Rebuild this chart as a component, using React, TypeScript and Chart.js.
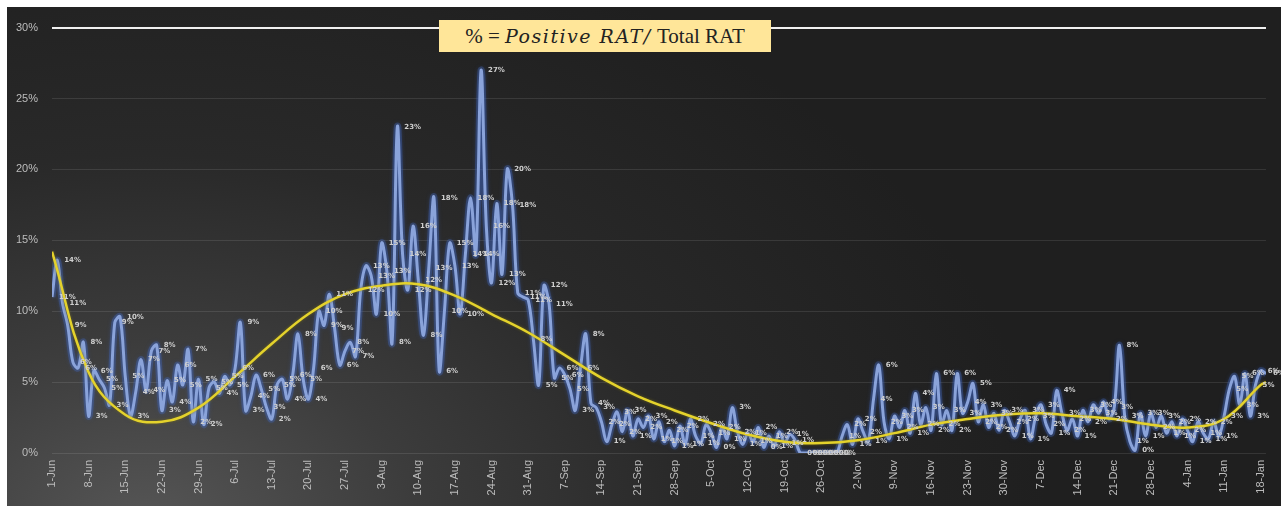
import React, { useEffect, useRef } from "react";
import { Chart, registerables } from "chart.js";

Chart.register(...registerables);

// Weekly tick labels (every 7th day starting 1-Jun)
const weekLabels = [
  "1-Jun", "8-Jun", "15-Jun", "22-Jun", "29-Jun", "6-Jul", "13-Jul", "20-Jul", "27-Jul",
  "3-Aug", "10-Aug", "17-Aug", "24-Aug", "31-Aug", "7-Sep", "14-Sep", "21-Sep", "28-Sep",
  "5-Oct", "12-Oct", "19-Oct", "26-Oct", "2-Nov", "9-Nov", "16-Nov", "23-Nov", "30-Nov",
  "7-Dec", "14-Dec", "21-Dec", "28-Dec", "4-Jan", "11-Jan", "18-Jan",
];

// Daily % positive RAT, 1-Jun .. 19-Jan
const positivity = [
  11.0, 13.6, 10.6, 9.0, 6.4, 6.0, 7.8, 2.6, 5.8, 5.2,
  4.6, 3.4, 9.2, 9.6, 5.4, 2.6, 4.3, 6.6, 4.4, 7.2,
  7.6, 3.0, 5.1, 3.6, 6.2, 4.8, 7.3, 2.2, 5.2, 2.0,
  4.6, 5.0, 4.2, 5.4, 4.8, 6.0, 9.2, 3.0, 4.0, 5.5,
  4.5, 3.2, 2.4, 4.8, 5.2, 3.8, 5.5, 8.4, 5.2, 3.8,
  6.0, 10.0, 9.0, 11.2, 8.8, 6.2, 7.2, 7.8, 6.8, 11.5,
  13.2, 12.5, 9.8, 14.8, 12.8, 7.8, 23.0, 14.0, 11.5, 16.0,
  12.2, 8.3, 13.0, 18.0, 5.8, 10.0, 14.8, 13.2, 9.8, 14.0,
  18.0, 14.0, 27.0, 16.0, 12.0, 17.6, 12.6, 20.0, 17.5, 11.3,
  11.0, 10.8, 8.0, 4.8, 11.8, 10.5, 5.3, 6.0, 5.5, 4.5,
  3.0, 6.0, 8.4, 3.5, 3.2, 2.2, 0.8, 2.0, 2.9, 1.5,
  3.0, 1.2, 2.4, 1.8, 2.6, 1.0, 2.2, 0.8, 1.6, 0.5,
  1.9, 0.6, 2.4, 1.2, 0.7, 2.0, 1.4, 0.4, 1.8, 1.0,
  3.2, 1.5, 0.6, 1.4, 0.8, 1.8, 0.4, 1.2, 0.5, 1.5,
  0.7, 1.3, 0.9, 0, 0, 0, 0, 0, 0, 0,
  0, 1.2, 2.0, 0.6, 2.4, 1.5, 0.8, 3.8, 6.2, 2.2,
  1.0, 2.6, 1.8, 3.0, 1.4, 4.2, 2.0, 3.2, 1.6, 5.6,
  2.0, 3.0, 1.6, 5.6, 2.8, 3.6, 4.9, 2.2, 3.4, 1.8,
  2.8, 1.6, 3.0, 2.2, 1.2, 2.4, 3.0, 1.0, 2.6, 3.4,
  2.0, 1.4, 4.4, 2.8, 1.6, 2.4, 1.2, 3.0, 2.2, 3.4,
  2.8, 3.6, 2.4, 3.2, 7.6, 2.6, 0.8, 0.2, 2.8, 1.2,
  2.8, 1.8, 2.6, 1.4, 2.2, 1.2, 2.4, 1.6, 0.8, 2.2,
  1.4, 1.0, 2.2, 1.2, 2.6, 4.5, 5.4, 3.4, 5.6, 2.6,
  4.8, 5.8, 5.6,
];

// Polynomial trendline, read at weekly days
const trendDays = [0, 7, 14, 21, 28, 35, 42, 49, 56, 63, 70, 77, 84, 91, 98, 105, 112, 119, 126, 133, 140, 147, 154, 161, 168, 175, 182, 189, 196, 203, 210, 217, 224, 231, 232];
const trendValues = [14.2, 5.7, 2.7, 2.2, 3.2, 5.4, 7.7, 9.8, 11.2, 11.8, 11.9, 11.1, 9.8, 8.5, 6.9, 5.3, 4.0, 3.0, 2.1, 1.3, 0.8, 0.7, 0.9, 1.4, 2.0, 2.4, 2.7, 2.8, 2.6, 2.4, 2.0, 1.8, 2.4, 4.8, 5.0];

const yTicks = [0, 5, 10, 15, 20, 25, 30];

export default function App() {
  const canvasRef = useRef<HTMLCanvasElement>(null);

  useEffect(() => {
    if (!canvasRef.current) return;
    const mainPoints = positivity.map((v, i) => ({ x: i, y: v }));
    const trendPoints = trendDays.map((d, i) => ({ x: d, y: trendValues[i] }));

    const glowPlugin = {
      id: "glow",
      beforeDatasetDraw(chart: any, args: any) {
        const ctx = chart.ctx;
        ctx.save();
        if (args.index === 1) {
          ctx.shadowColor = "rgba(60,95,185,0.7)";
          ctx.shadowBlur = 5;
        } else if (args.index === 0) {
          ctx.shadowColor = "rgba(120,110,20,0.8)";
          ctx.shadowBlur = 3;
        }
      },
      afterDatasetDraw(chart: any) {
        chart.ctx.restore();
      },
    };

    const labelPlugin = {
      id: "pointLabels",
      afterDatasetsDraw(chart: any) {
        const meta = chart.getDatasetMeta(1);
        const ctx = chart.ctx;
        ctx.save();
        ctx.font = 'bold 7px "DejaVu Sans"';
        ctx.fillStyle = "#cfcfcf";
        ctx.textBaseline = "middle";
        ctx.textAlign = "left";
        meta.data.forEach((pt: any, i: number) => {
          ctx.fillText(Math.round(positivity[i]) + "%", pt.x + 7, pt.y);
        });
        ctx.restore();
      },
    };

    const chart = new Chart(canvasRef.current, {
      type: "line",
      data: {
        datasets: [
          {
            label: "Trend",
            data: trendPoints,
            borderColor: "#e4d22c",
            borderWidth: 2.5,
            pointRadius: 0,
            tension: 0.4,
            order: 0,
          },
          {
            label: "% Positive RAT",
            data: mainPoints,
            borderColor: "#8aa3da",
            borderWidth: 3,
            pointRadius: 0,
            tension: 0.35,
            order: 1,
          },
          {
            label: "halo",
            data: mainPoints,
            borderColor: "rgba(70,105,190,0.35)",
            borderWidth: 7,
            pointRadius: 0,
            tension: 0.35,
            order: 2,
          },
        ],
      },
      options: {
        animation: false,
        responsive: true,
        maintainAspectRatio: false,
        layout: { padding: { top: 14, right: 13, left: 0, bottom: 0 } },
        plugins: {
          legend: { display: false },
          tooltip: { enabled: false },
        },
        scales: {
          x: {
            type: "linear",
            min: 0,
            max: 232,
            afterBuildTicks: (axis: any) => {
              axis.ticks = weekLabels.map((_, i) => ({ value: i * 7 }));
            },
            afterFit: (axis: any) => {
              axis.height = 53;
            },
            grid: { display: false, drawTicks: false },
            border: { display: false },
            ticks: {
              autoSkip: false,
              maxRotation: 90,
              minRotation: 90,
              padding: 7,
              color: "#bdbdbd",
              font: { family: '"Liberation Sans"', size: 11 },
              callback: (v: any) => weekLabels[Math.round(Number(v) / 7)] ?? "",
            },
          },
          y: {
            min: 0,
            max: 30,
            afterBuildTicks: (axis: any) => {
              axis.ticks = yTicks.map((v) => ({ value: v }));
            },
            afterFit: (axis: any) => {
              axis.width = 45;
            },
            border: { display: false },
            grid: {
              drawTicks: false,
              color: (c: any) => (c.tick && c.tick.value === 30 ? "#f0f0f0" : "rgba(255,255,255,0.10)"),
              lineWidth: (c: any) => (c.tick && c.tick.value === 30 ? 2 : 1),
            },
            ticks: {
              padding: 14,
              color: "#bdbdbd",
              font: { family: '"Liberation Sans"', size: 11 },
              callback: (v: any) => v + "%",
            },
          },
        },
      },
      plugins: [glowPlugin, labelPlugin],
    });
    return () => chart.destroy();
  }, []);

  return (
    <div
      style={{
        position: "fixed",
        left: 7,
        top: 7,
        width: 1274,
        height: 499,
        background:
          "radial-gradient(900px 620px at 140px 520px, #565656 0%, #3c3c3c 30%, #292929 60%, #1f1f1f 100%)",
        overflow: "hidden",
      }}
    >
      <canvas ref={canvasRef} />
      <div
        style={{
          position: "absolute",
          left: 432,
          top: 13,
          width: 332,
          height: 32,
          background: "#ffe699",
          color: "#222",
          display: "flex",
          alignItems: "center",
          justifyContent: "center",
          fontFamily: '"Liberation Serif", serif',
          fontSize: 21,
          whiteSpace: "nowrap",
        }}
      >
        <span>%&nbsp;=&nbsp;</span>
        <span style={{ fontStyle: "italic", fontFamily: '"DejaVu Serif", serif', fontSize: 19, letterSpacing: 1.5 }}>
          Positive RAT/
        </span>
        <span>&nbsp;Total RAT</span>
      </div>
    </div>
  );
}
